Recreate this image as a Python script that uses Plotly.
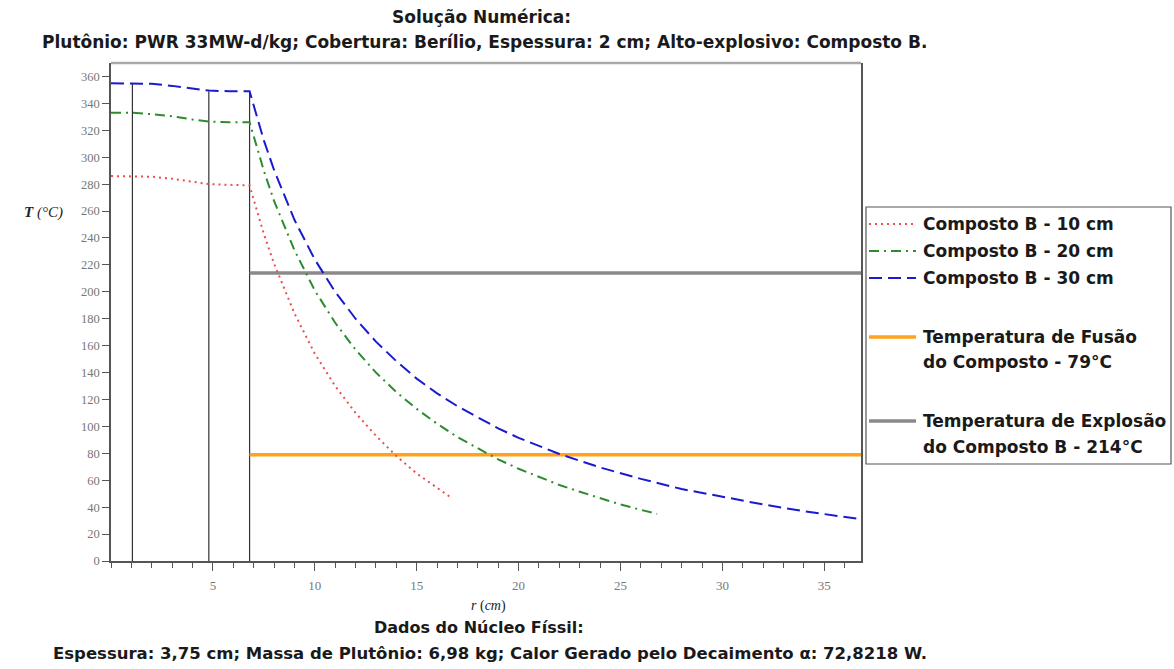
import plotly.graph_objects as go

# ---------------- data ----------------
r_10 = [0, 1.05, 2, 3, 4, 4.8, 5.8, 6.8, 7.5, 8, 9, 10, 11, 12, 13, 14, 15, 16, 16.6]
T_10 = [286, 286, 285.5, 284, 282, 280, 279.5, 279, 243, 221, 184, 154, 130, 110, 93, 78, 65, 54, 48]

r_20 = [0, 1.05, 2, 3, 4, 4.8, 5.8, 6.8, 7.5, 8, 9, 10, 11, 12, 13, 14, 15, 16, 17, 18, 19, 20,
        21, 22, 23, 24, 25, 26, 26.8]
T_20 = [333, 333, 332, 330.5, 328, 326.5, 326, 326, 290, 267.5, 231, 201, 177, 157, 140, 125.5, 113,
        102, 92, 83.5, 75.5, 68.5, 62.5, 56.5, 51.5, 46.5, 42, 38, 35]

r_30 = [0, 1.05, 2, 3, 4, 4.8, 5.8, 6.8, 7.5, 8, 9, 10, 11, 12, 13, 14, 15, 16, 17, 18, 19, 20,
        22, 24, 26, 28, 30, 32, 34, 36.8]
T_30 = [355, 355, 354.5, 353, 351, 349.5, 349, 349, 312.5, 290.5, 253.5, 224, 200, 180, 163, 148.5,
        135.5, 124.5, 115, 106.5, 98.5, 91.5, 79.5, 69.5, 61, 53.5, 47.5, 42, 37, 31]

r_walls = [1.05, 4.8, 6.8]
T_walls_top = [355, 349, 349]

r_limits = [6.8, 36.8]
T_fusao = 79
T_explosao = 214

series_names = ["Composto B - 10 cm", "Composto B - 20 cm", "Composto B - 30 cm"]
fusao_label = ["Temperatura de Fusão", "do Composto - 79°C"]
explosao_label = ["Temperatura de Explosão", "do Composto B - 214°C"]

x_ticks = [5, 10, 15, 20, 25, 30, 35]
y_ticks = list(range(0, 361, 20))

title_1 = "Solução Numérica:"
title_2 = "Plutônio: PWR 33MW-d/kg; Cobertura: Berílio, Espessura: 2 cm; Alto-explosivo: Composto B."
bottom_1 = "Dados do Núcleo Físsil:"
bottom_2 = "Espessura: 3,75 cm; Massa de Plutônio: 6,98 kg; Calor Gerado pelo Decaimento α: 72,8218 W."

# ---------------- style ----------------
W, H = 1174, 669
L, R, T, B = 111, 861, 63, 561
TXT = "'DejaVu Sans', sans-serif"
SERIF = "'Liberation Serif', 'DejaVu Serif', serif"

c_red, c_green, c_blue = "#f24b4b", "#2e8b2e", "#1a1ad0"
c_orange, c_gray = "#ffa31a", "#8a8a8a"
dash_red = "2px,4px"
dash_green = "10px,5px,2px,5px"
dash_blue = "13px,6px"


def px(xp):
    return (xp - L) / (R - L)


def py(yp):
    return (B - yp) / (B - T)


fig = go.Figure()

# walls of the core / cover
wx, wy = [], []
for rw, tw in zip(r_walls, T_walls_top):
    wx += [rw, rw, None]
    wy += [0, tw, None]
fig.add_trace(go.Scatter(x=wx, y=wy, mode="lines", line=dict(color="#333333", width=1.2),
                         showlegend=False, hoverinfo="skip"))

fig.add_trace(go.Scatter(x=r_limits, y=[T_explosao] * 2, mode="lines",
                         line=dict(color=c_gray, width=3.5), showlegend=False))
fig.add_trace(go.Scatter(x=r_limits, y=[T_fusao] * 2, mode="lines",
                         line=dict(color=c_orange, width=3.5), showlegend=False))

fig.add_trace(go.Scatter(x=r_10, y=T_10, mode="lines", name=series_names[0],
                         line=dict(color=c_red, width=2, dash=dash_red), showlegend=False))
fig.add_trace(go.Scatter(x=r_20, y=T_20, mode="lines", name=series_names[1],
                         line=dict(color=c_green, width=2, dash=dash_green), showlegend=False))
fig.add_trace(go.Scatter(x=r_30, y=T_30, mode="lines", name=series_names[2],
                         line=dict(color=c_blue, width=2, dash=dash_blue), showlegend=False))

shapes = []
annotations = []

# top frame (light gray)
shapes.append(dict(type="line", xref="paper", yref="paper", x0=0, x1=1, y0=1, y1=1,
                   line=dict(color="#a8a8a8", width=2.5)))

# manual legend
shapes.append(dict(type="rect", xref="paper", yref="paper", x0=px(866), x1=px(1171),
                   y0=py(464), y1=py(207), line=dict(color="#555555", width=1.2)))
leg_lines = [(224, c_red, dash_red, 2), (251, c_green, dash_green, 2), (278, c_blue, dash_blue, 2),
             (337, c_orange, "solid", 3.5), (421, c_gray, "solid", 3.5)]
for yy, col, dsh, wd in leg_lines:
    shapes.append(dict(type="line", xref="paper", yref="paper", x0=px(869), x1=px(916),
                       y0=py(yy), y1=py(yy), line=dict(color=col, width=wd, dash=dsh)))
leg_texts = [(224, series_names[0]), (251, series_names[1]), (278, series_names[2]),
             (337, fusao_label[0]), (362, fusao_label[1]),
             (421, explosao_label[0]), (447, explosao_label[1])]
for yy, tx in leg_texts:
    annotations.append(dict(xref="paper", yref="paper", x=px(921), y=py(yy), text="<b>" + tx + "</b>",
                            showarrow=False, xanchor="left", yanchor="middle",
                            font=dict(family=TXT, size=17, color="#1a1a1a")))

# titles
for (xx, yy, tx, sz) in [(481, 17, title_1, 17), (484, 42, title_2, 17),
                         (479, 627, bottom_1, 16), (490, 653, bottom_2, 16.5)]:
    annotations.append(dict(xref="paper", yref="paper", x=px(xx), y=py(yy), text="<b>" + tx + "</b>",
                            showarrow=False, xanchor="center", yanchor="middle",
                            font=dict(family=TXT, size=sz, color="#1a1a1a")))

# axis titles
annotations.append(dict(xref="paper", yref="paper", x=px(43), y=py(213), text="<b><i>T</i></b><i> (°C)</i>",
                        showarrow=False, xanchor="center", yanchor="middle",
                        font=dict(family=SERIF, size=15, color="#222222")))
annotations.append(dict(xref="paper", yref="paper", x=px(488), y=py(606), text="<i>r</i> (<i>cm</i>)",
                        showarrow=False, xanchor="center", yanchor="middle",
                        font=dict(family=SERIF, size=14, color="#222222")))

fig.update_layout(
    width=W, height=H,
    margin=dict(l=L, r=W - R, t=T, b=H - B),
    paper_bgcolor="white", plot_bgcolor="white",
    showlegend=False,
    shapes=shapes, annotations=annotations,
    xaxis=dict(range=[0, 36.8], tickvals=x_ticks, ticks="outside", ticklen=8, tickwidth=1,
               tickcolor="#555555", showgrid=False, zeroline=False, showline=True,
               linecolor="#555555", linewidth=1.5, ticklabelstandoff=4,
               tickfont=dict(family=SERIF, size=13, color="#777777"),
               minor=dict(dtick=1, tick0=0, ticks="outside", ticklen=5, tickcolor="#555555", showgrid=False)),
    yaxis=dict(range=[0, 370], tickvals=y_ticks, ticks="outside", ticklen=7, tickwidth=1,
               tickcolor="#555555", showgrid=False, zeroline=False, showline=True,
               linecolor="#555555", linewidth=1.5, mirror=True,
               tickfont=dict(family=SERIF, size=12.5, color="#777777")),
)

fig.write_html("out.html")
